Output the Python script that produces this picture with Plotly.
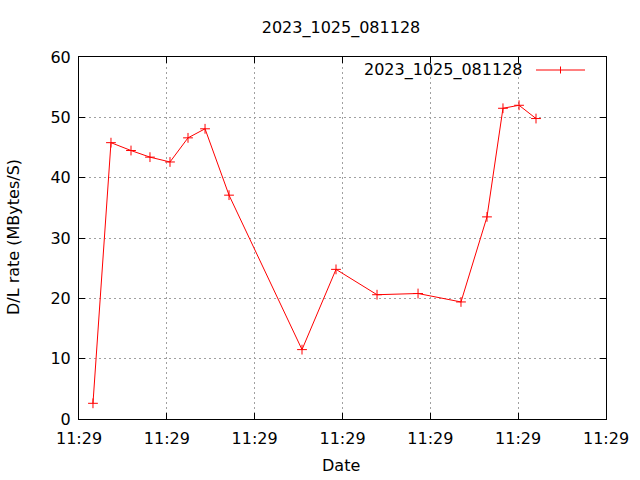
import plotly.graph_objects as go

title_text = "2023_1025_081128"
series_name = "2023_1025_081128"
x_title = "Date"
y_title = "D/L rate (MBytes/S)"
x_vals = [1.59, 3.64, 5.92, 8.08, 10.36, 12.41, 14.35, 17.08, 25.39, 29.26,
          33.93, 38.60, 43.49, 46.45, 48.27, 50.10, 52.03]
y_vals = [2.6, 45.8, 44.5, 43.4, 42.6, 46.6, 48.1, 37.1, 11.5, 24.8,
          20.6, 20.8, 19.4, 33.5, 51.5, 52.0, 49.8]
x_tickvals = [0, 10, 20, 30, 40, 50, 60]
x_ticklabels = ["11:29"] * 7
y_tickvals = [0, 10, 20, 30, 40, 50, 60]

font = "DejaVu Sans"
FS = 16
L, R, T, B = 79, 606, 57, 419
W, H = R - L, B - T

fig = go.Figure()
fig.add_trace(go.Scatter(
    x=x_vals, y=y_vals, mode="lines+markers", name=series_name,
    line=dict(color="#ff0000", width=1),
    marker=dict(symbol="cross-thin", size=7, line=dict(color="#ff0000", width=1)),
    showlegend=False,
))

axis_common = dict(
    showline=True, linecolor="black", linewidth=1, mirror="ticks",
    ticks="inside", ticklen=6, tickcolor="black",
    showgrid=True, gridcolor="#a0a0a0", griddash="2px,3px", gridwidth=1,
    zeroline=False, tickfont=dict(family=font, size=FS, color="black"),
    automargin=False,
)

fig.update_xaxes(range=[0, 60], tickvals=x_tickvals, ticktext=x_ticklabels,
                 ticklabelstandoff=5, **axis_common)
fig.update_yaxes(range=[0, 60], tickvals=y_tickvals, ticklabelstandoff=4, **axis_common)

def px_x(px):
    return (px - L) / W

def px_y(py):
    return (B - py) / H

# axis titles
fig.add_annotation(x=px_x(341), y=px_y(465), xref="paper", yref="paper", text=x_title,
                   showarrow=False, xanchor="center", yanchor="middle",
                   font=dict(family=font, size=FS, color="black"))
fig.add_annotation(x=px_x(14), y=px_y(237), xref="paper", yref="paper", text=y_title,
                   showarrow=False, xanchor="center", yanchor="middle", textangle=-90,
                   font=dict(family=font, size=FS, color="black"))

# gnuplot-style legend: text then sample line on the right
ly = px_y(70)
fig.add_annotation(x=px_x(525), y=ly, xref="paper", yref="paper",
                   text=series_name, showarrow=False, xanchor="right", yanchor="middle",
                   font=dict(family=font, size=FS, color="black"))
fig.add_shape(type="line", xref="paper", yref="paper",
              x0=px_x(536), x1=px_x(585), y0=ly, y1=ly,
              line=dict(color="#ff0000", width=1))
fig.add_shape(type="line", xref="paper", yref="paper",
              x0=px_x(560.5), x1=px_x(560.5), y0=ly - 3.5 / H, y1=ly + 3.5 / H,
              line=dict(color="#ff0000", width=1))

fig.update_layout(
    width=640, height=480,
    margin=dict(l=L, r=640 - R, t=T, b=480 - B, autoexpand=False),
    paper_bgcolor="white", plot_bgcolor="white",
    title=dict(text=title_text, x=341 / 640, xanchor="center",
               y=1 - 27 / 480, yanchor="middle",
               font=dict(family=font, size=FS, color="black")),
    showlegend=False,
)

fig.write_html("out.html", config={"displayModeBar": False},
               post_script="document.body.style.margin='0px';")
